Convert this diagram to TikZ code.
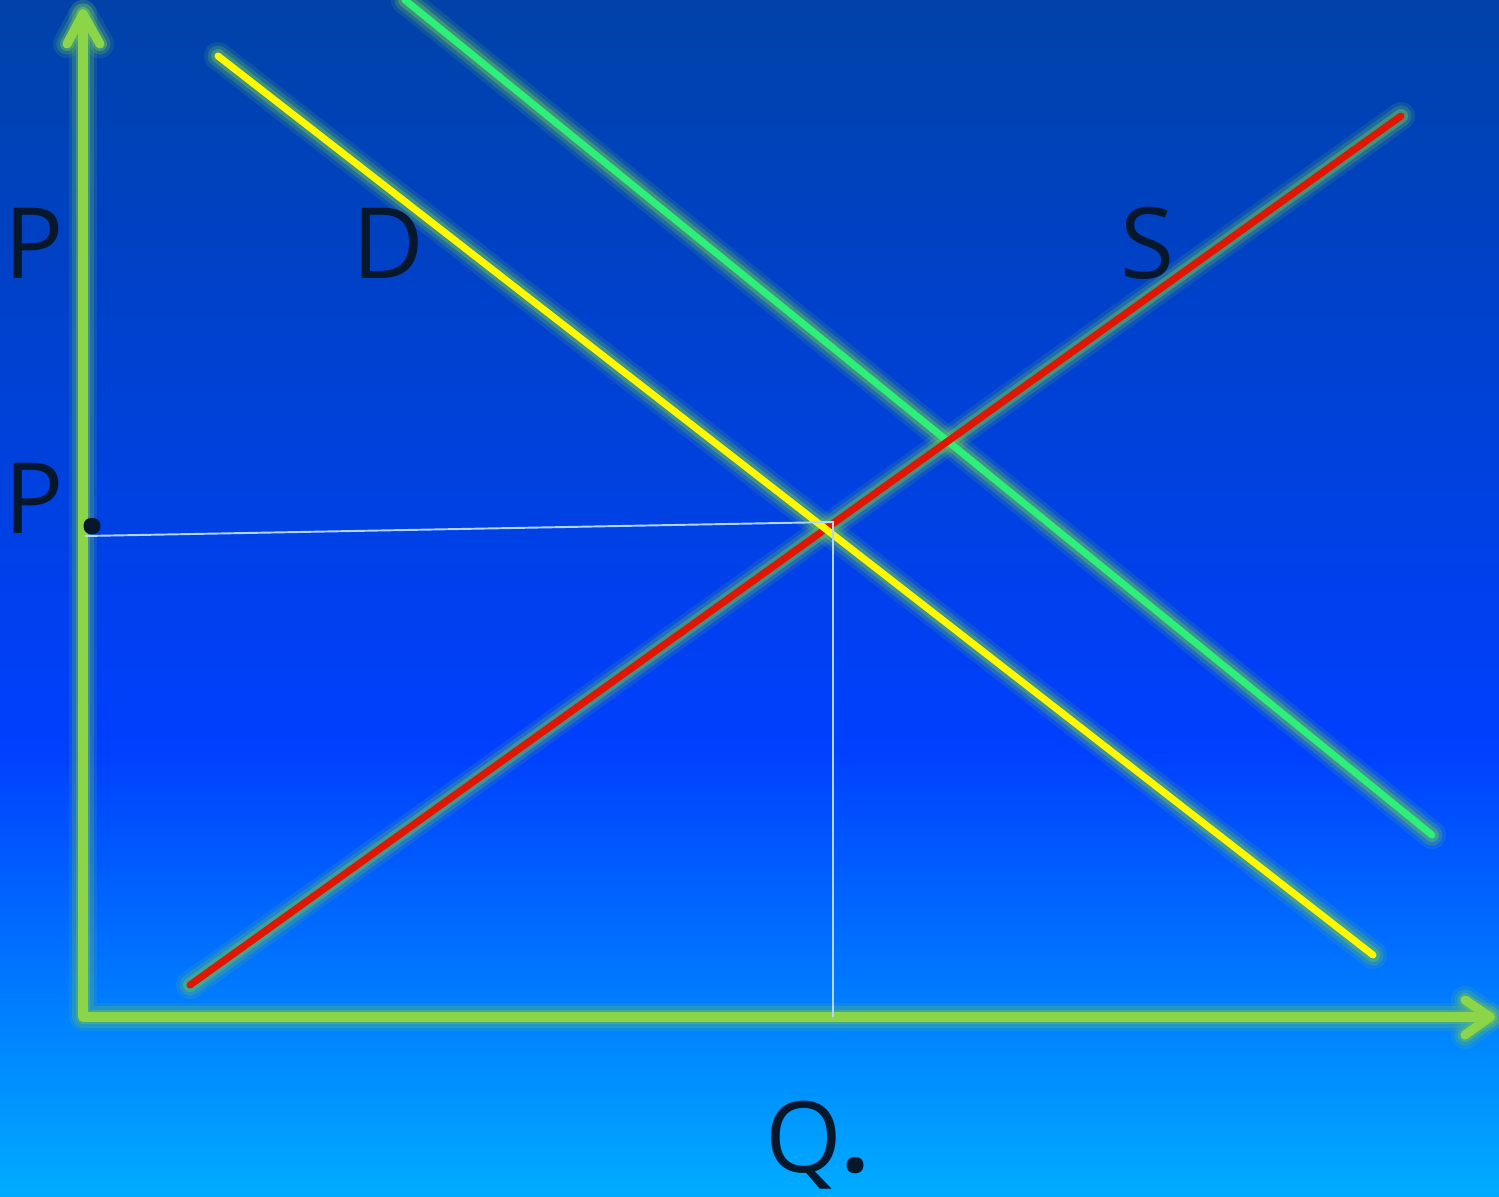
\documentclass[tikz,border=0pt]{standalone}
\usepackage{fontspec}
\setmainfont{Open Sans}
\definecolor{bgtop}{RGB}{0,66,168}
\definecolor{bgmid}{RGB}{0,64,255}
\definecolor{bgbot}{RGB}{0,172,255}
\definecolor{axisgreen}{RGB}{140,212,72}
\definecolor{dyellow}{RGB}{255,248,0}
\definecolor{sred}{RGB}{225,22,0}
\definecolor{dgreen}{RGB}{44,240,120}
\definecolor{halo}{RGB}{100,190,100}
\definecolor{guide}{RGB}{176,214,255}
\definecolor{ink}{RGB}{8,24,44}
\tikzset{
  glow/.style={draw=halo, line cap=round, line join=round},
  curve/.style={line width=2pt, line cap=round, line join=round},
  axisline/.style={draw=axisgreen, line width=2.6pt, line cap=round, line join=round},
  guideline/.style={draw=guide, line width=0.55pt},
  lbl/.style={inner sep=0pt, anchor=base west, text=ink, font=\fontsize{28}{30}\selectfont}
}
\begin{document}
\begin{tikzpicture}[x=0.01cm, y=-0.01cm]
  % background
  \shade[top color=bgtop, bottom color=bgmid] (0,0) rectangle (1499,751);
  \shade[top color=bgmid, bottom color=bgbot] (0,750) rectangle (1499,1196);
  \useasboundingbox (0,0) rectangle (1499,1196);
  \clip (0,0) rectangle (1499,1196);
  % points
  \coordinate (O) at (83,1017);
  \coordinate (ytip) at (83,14);
  \coordinate (xtip) at (1490,1017);
  \coordinate (d1) at (218,56);
  \coordinate (d2) at (1373,955);
  \coordinate (n1) at (405,0);
  \coordinate (n2) at (1432,835);
  \coordinate (s1) at (190,985);
  \coordinate (s2) at (1401,116);
  \coordinate (eq) at (833,522);
  \coordinate (pe) at (85,536);
  \coordinate (qe) at (833,1017);
  % glow under everything
  \foreach \w/\o in {8pt/0.15,6pt/0.25,4pt/0.45} {
    \draw[glow, line width=\w, opacity=\o] (ytip) -- (O) -- (xtip);
    \draw[glow, line width=\w, opacity=\o] ([shift={(-16,30)}]ytip) -- (ytip) -- ([shift={(17,30)}]ytip);
    \draw[glow, line width=\w, opacity=\o] ([shift={(-25,-17)}]xtip) -- (xtip) -- ([shift={(-25,18)}]xtip);
    \draw[glow, line width=\w, opacity=\o] (d1) -- (d2);
    \draw[glow, line width=\w, opacity=\o] (n1) -- (n2);
    \draw[glow, line width=\w, opacity=\o] (s1) -- (s2);
  }
  % axes
  \draw[axisline] (ytip) -- (O) -- (xtip);
  \draw[axisline] ([shift={(-16,30)}]ytip) -- (ytip) -- ([shift={(17,30)}]ytip);
  \draw[axisline] ([shift={(-25,-17)}]xtip) -- (xtip) -- ([shift={(-25,18)}]xtip);
  % curves
  \draw[curve, dgreen] (n1) -- (n2);
  \draw[curve, sred] (s1) -- (s2);
  \draw[curve, dyellow] (d1) -- (d2);
  % guides
  \draw[guideline] (pe) -- (eq) -- (qe);
  % labels
  \node[lbl] (ptop) at (4,278) {P};
  \node[lbl] (dlbl) at (352,278) {D};
  \node[lbl] (slbl) at (1120,278) {S};
  \node[lbl] (pstar) at (4,533) {P\kern0.15cm\textbf{.}};
  \node[lbl] (qstar) at (765,1172) {Q\kern-0.01cm\textbf{.}};
\end{tikzpicture}
\end{document}
